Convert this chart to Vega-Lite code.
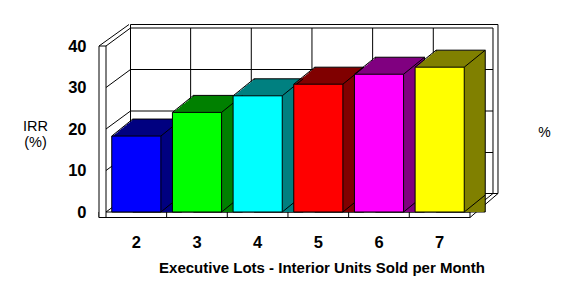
{
"$schema":"https://vega.github.io/schema/vega-lite/v6.json",
"width":364,"height":166,"autosize":"none",
"padding":{"left":106,"top":46,"right":104,"bottom":74},
"background":"white",
"config":{"view":{"stroke":null},"font":"Liberation Sans",
"axis":{"domain":false,"ticks":false,"grid":false,"labelColor":"black","titleColor":"black","labelFontWeight":"bold","labelFontSize":16.5},
"axisX":{"labelAngle":0,"labelPadding":22,"titleFontSize":15,"titleFontWeight":"bold","titleX":215.5,"titleY":60,"titleAlign":"center","titleBaseline":"alphabetic"},
"axisY":{"labelPadding":20,"titleAngle":0,"titleX":-71,"titleY":84,"titleAlign":"center","titleBaseline":"alphabetic","titleFontSize":14.5,"titleFontWeight":"normal","titleLineHeight":16}},
"datasets":{
"irr":[{"units":"2","irr":18.3},{"units":"3","irr":24},{"units":"4","irr":28},{"units":"5","irr":30.8},{"units":"6","irr":33.2},{"units":"7","irr":34.9}],
"ticks":[{"v":0},{"v":10},{"v":20},{"v":30},{"v":40}],
"frame":[{"part":"frame"}]
},
"title":{"text":"%","orient":"right","angle":0,"anchor":"middle","offset":33.5,"fontSize":14,"fontWeight":"normal","align":"center","baseline":"middle","dy":4,"color":"black"},
"layer":[
{"data":{"name":"frame"},"mark":{"type":"rect","fill":"white","stroke":"black","strokeWidth":1,"xOffset":18.74,"x2Offset":33.76,"yOffset":-21.5,"y2Offset":-18.5},"encoding":{"x":{"datum":"2","type":"ordinal","bandPosition":0,"scale":{"type":"band","domain":["2","3","4","5","6","7"],"paddingInner":0.19,"paddingOuter":0.095}},"x2":{"datum":"7","bandPosition":1},"y":{"datum":40,"type":"quantitative","scale":{"domain":[0,40],"nice":false}},"y2":{"datum":0}}},
{"data":{"name":"frame"},"mark":{"type":"rect","fill":"white","stroke":"black","strokeWidth":1,"xOffset":18.74,"x2Offset":28.76,"yOffset":-18,"y2Offset":-18.5},"encoding":{"x":{"datum":"2","type":"ordinal","bandPosition":0},"x2":{"datum":"7","bandPosition":1},"y":{"datum":40,"type":"quantitative"},"y2":{"datum":0}}},
{"data":{"name":"ticks"},"transform":[{"filter":"datum.v > 0 && datum.v < 40"}],"mark":{"type":"rule","color":"black","strokeWidth":1,"xOffset":18.74,"x2Offset":28.76,"yOffset":-18,"y2Offset":-18},"encoding":{"x":{"datum":"2","type":"ordinal","bandPosition":0},"x2":{"datum":"7","bandPosition":1},"y":{"field":"v","type":"quantitative"},"y2":{"field":"v"}}},
{"data":{"name":"irr"},"transform":[{"filter":"datum.units != '2'"}],"mark":{"type":"rule","color":"black","strokeWidth":1,"xOffset":18.2,"yOffset":-18,"y2Offset":-18.5},"encoding":{"x":{"field":"units","type":"ordinal","bandPosition":0},"y":{"datum":40,"type":"quantitative"},"y2":{"datum":0}}},
{"data":{"name":"ticks"},"mark":{"type":"rule","color":"black","strokeWidth":1,"xOffset":-5.76,"x2Offset":18.74,"y2Offset":-18},"encoding":{"x":{"datum":"2","type":"ordinal","bandPosition":0},"x2":{"datum":"2","bandPosition":0},"y":{"field":"v","type":"quantitative"},"y2":{"field":"v"}}},
{"data":{"name":"irr"},"transform":[{"filter":"datum.units != '2'"}],"mark":{"type":"rule","color":"black","strokeWidth":1,"xOffset":-5.8,"x2Offset":18.2,"y2Offset":-18.5},"encoding":{"x":{"field":"units","type":"ordinal","bandPosition":0},"x2":{"field":"units","bandPosition":0},"y":{"datum":0,"type":"quantitative"},"y2":{"datum":0}}},
{"data":{"name":"frame"},"mark":{"type":"rule","color":"black","strokeWidth":1,"xOffset":5.76,"x2Offset":28.76,"y2Offset":-18.5},"encoding":{"x":{"datum":"7","type":"ordinal","bandPosition":1},"x2":{"datum":"7","bandPosition":1},"y":{"datum":0,"type":"quantitative"},"y2":{"datum":0}}},
{"data":{"name":"frame"},"mark":{"type":"rule","color":"black","strokeWidth":1,"xOffset":5.76,"x2Offset":33.76,"yOffset":5.5,"y2Offset":-18.5},"encoding":{"x":{"datum":"7","type":"ordinal","bandPosition":1},"x2":{"datum":"7","bandPosition":1},"y":{"datum":0,"type":"quantitative"},"y2":{"datum":0}}},
{"data":{"name":"frame"},"mark":{"type":"rect","fill":"white","stroke":"black","strokeWidth":1,"xOffset":-12.76,"x2Offset":5.76,"y2Offset":5.5},"encoding":{"x":{"datum":"2","type":"ordinal","bandPosition":0},"x2":{"datum":"7","bandPosition":1},"y":{"datum":0,"type":"quantitative"},"y2":{"datum":0}}},
{"data":{"name":"irr"},"transform":[{"filter":"datum.units != '2'"}],"mark":{"type":"rule","color":"black","strokeWidth":1,"xOffset":-5.8,"y2Offset":5.5},"encoding":{"x":{"field":"units","type":"ordinal","bandPosition":0},"y":{"datum":0,"type":"quantitative"},"y2":{"datum":0}}},
{"data":{"name":"frame"},"mark":{"type":"rect","fill":"white","stroke":"black","strokeWidth":1,"xOffset":-12.76,"x2Offset":-5.76,"y2Offset":5.5},"encoding":{"x":{"datum":"2","type":"ordinal","bandPosition":0},"x2":{"datum":"2","bandPosition":0},"y":{"datum":40,"type":"quantitative"},"y2":{"datum":0}}},
{"data":{"name":"frame"},"mark":{"type":"rule","color":"black","strokeWidth":1,"xOffset":-12.76,"x2Offset":17.24,"y2Offset":-21.5},"encoding":{"x":{"datum":"2","type":"ordinal","bandPosition":0},"x2":{"datum":"2","bandPosition":0},"y":{"datum":40,"type":"quantitative"},"y2":{"datum":40}}},
{"data":{"name":"irr"},"mark":{"type":"bar","stroke":"black","strokeWidth":1,"xOffset":21,"x2Offset":21,"yOffset":-17,"y2Offset":-17},"encoding":{"x":{"field":"units","type":"ordinal"},"y":{"field":"irr","type":"quantitative","stack":null},"color":{"field":"units","type":"ordinal","legend":null,"scale":{"domain":["2","3","4","5","6","7"],"range":["#000080","#008000","#008080","#800000","#800080","#808000"]}}}},
{"data":{"name":"irr"},"mark":{"type":"bar","xOffset":19.5,"x2Offset":19.5,"yOffset":-15.79,"y2Offset":-15.79},"encoding":{"x":{"field":"units","type":"ordinal"},"y":{"field":"irr","type":"quantitative","stack":null},"color":{"field":"units","type":"ordinal","legend":null}}},
{"data":{"name":"irr"},"mark":{"type":"bar","xOffset":18,"x2Offset":18,"yOffset":-14.57,"y2Offset":-14.57},"encoding":{"x":{"field":"units","type":"ordinal"},"y":{"field":"irr","type":"quantitative","stack":null},"color":{"field":"units","type":"ordinal","legend":null}}},
{"data":{"name":"irr"},"mark":{"type":"bar","xOffset":16.5,"x2Offset":16.5,"yOffset":-13.36,"y2Offset":-13.36},"encoding":{"x":{"field":"units","type":"ordinal"},"y":{"field":"irr","type":"quantitative","stack":null},"color":{"field":"units","type":"ordinal","legend":null}}},
{"data":{"name":"irr"},"mark":{"type":"bar","xOffset":15,"x2Offset":15,"yOffset":-12.14,"y2Offset":-12.14},"encoding":{"x":{"field":"units","type":"ordinal"},"y":{"field":"irr","type":"quantitative","stack":null},"color":{"field":"units","type":"ordinal","legend":null}}},
{"data":{"name":"irr"},"mark":{"type":"bar","xOffset":13.5,"x2Offset":13.5,"yOffset":-10.93,"y2Offset":-10.93},"encoding":{"x":{"field":"units","type":"ordinal"},"y":{"field":"irr","type":"quantitative","stack":null},"color":{"field":"units","type":"ordinal","legend":null}}},
{"data":{"name":"irr"},"mark":{"type":"bar","xOffset":12,"x2Offset":12,"yOffset":-9.71,"y2Offset":-9.71},"encoding":{"x":{"field":"units","type":"ordinal"},"y":{"field":"irr","type":"quantitative","stack":null},"color":{"field":"units","type":"ordinal","legend":null}}},
{"data":{"name":"irr"},"mark":{"type":"bar","xOffset":10.5,"x2Offset":10.5,"yOffset":-8.5,"y2Offset":-8.5},"encoding":{"x":{"field":"units","type":"ordinal"},"y":{"field":"irr","type":"quantitative","stack":null},"color":{"field":"units","type":"ordinal","legend":null}}},
{"data":{"name":"irr"},"mark":{"type":"bar","xOffset":9,"x2Offset":9,"yOffset":-7.29,"y2Offset":-7.29},"encoding":{"x":{"field":"units","type":"ordinal"},"y":{"field":"irr","type":"quantitative","stack":null},"color":{"field":"units","type":"ordinal","legend":null}}},
{"data":{"name":"irr"},"mark":{"type":"bar","xOffset":7.5,"x2Offset":7.5,"yOffset":-6.07,"y2Offset":-6.07},"encoding":{"x":{"field":"units","type":"ordinal"},"y":{"field":"irr","type":"quantitative","stack":null},"color":{"field":"units","type":"ordinal","legend":null}}},
{"data":{"name":"irr"},"mark":{"type":"bar","xOffset":6,"x2Offset":6,"yOffset":-4.86,"y2Offset":-4.86},"encoding":{"x":{"field":"units","type":"ordinal"},"y":{"field":"irr","type":"quantitative","stack":null},"color":{"field":"units","type":"ordinal","legend":null}}},
{"data":{"name":"irr"},"mark":{"type":"bar","xOffset":4.5,"x2Offset":4.5,"yOffset":-3.64,"y2Offset":-3.64},"encoding":{"x":{"field":"units","type":"ordinal"},"y":{"field":"irr","type":"quantitative","stack":null},"color":{"field":"units","type":"ordinal","legend":null}}},
{"data":{"name":"irr"},"mark":{"type":"bar","xOffset":3,"x2Offset":3,"yOffset":-2.43,"y2Offset":-2.43},"encoding":{"x":{"field":"units","type":"ordinal"},"y":{"field":"irr","type":"quantitative","stack":null},"color":{"field":"units","type":"ordinal","legend":null}}},
{"data":{"name":"irr"},"mark":{"type":"bar","xOffset":1.5,"x2Offset":1.5,"yOffset":-1.21,"y2Offset":-1.21},"encoding":{"x":{"field":"units","type":"ordinal"},"y":{"field":"irr","type":"quantitative","stack":null},"color":{"field":"units","type":"ordinal","legend":null}}},
{"data":{"name":"irr"},"mark":{"type":"rule","color":"black","strokeWidth":1,"x2Offset":21,"y2Offset":-17},"encoding":{"x":{"field":"units","type":"ordinal","bandPosition":0},"x2":{"field":"units","bandPosition":0},"y":{"field":"irr","type":"quantitative"},"y2":{"field":"irr"}}},
{"data":{"name":"irr"},"mark":{"type":"rule","color":"black","strokeWidth":1,"x2Offset":21,"y2Offset":-17},"encoding":{"x":{"field":"units","type":"ordinal","bandPosition":1},"x2":{"field":"units","bandPosition":1},"y":{"field":"irr","type":"quantitative"},"y2":{"field":"irr"}}},
{"data":{"name":"irr"},"mark":{"type":"rule","color":"black","strokeWidth":1,"x2Offset":21,"y2Offset":-17},"encoding":{"x":{"field":"units","type":"ordinal","bandPosition":1},"x2":{"field":"units","bandPosition":1},"y":{"datum":0,"type":"quantitative"},"y2":{"datum":0}}},
{"data":{"name":"irr"},"mark":{"type":"bar","stroke":"black","strokeWidth":1},"encoding":{
"x":{"field":"units","type":"ordinal","axis":{"title":"Executive Lots - Interior Units Sold per Month"}},
"y":{"field":"irr","type":"quantitative","stack":null,"axis":{"values":[0,10,20,30,40],"title":["IRR","(%)"]}},
"fill":{"field":"units","type":"ordinal","legend":null,"scale":{"domain":["2","3","4","5","6","7"],"range":["#0000ff","#00ff00","#00ffff","#ff0000","#ff00ff","#ffff00"]}}}}
]
}
